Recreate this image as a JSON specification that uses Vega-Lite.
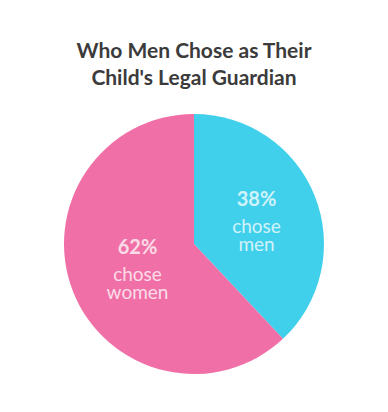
{
  "$schema": "https://vega.github.io/schema/vega-lite/v6.json",
  "width": 388,
  "height": 412,
  "autosize": {"type": "fit", "contains": "padding"},
  "padding": {"left": 6, "right": 6, "top": 5, "bottom": 8},
  "background": "#ffffff",
  "config": {"view": {"fill": "#f8f8f8", "stroke": null}},
  "title": {
    "text": ["Who Men Chose as Their", "Child's Legal Guardian"],
    "font": "Lato",
    "fontSize": 21,
    "fontWeight": "bold",
    "color": "#3b3b3b",
    "lineHeight": 27,
    "anchor": "middle",
    "baseline": "alphabetic",
    "offset": -101
  },
  "data": {
    "values": [
      {"group": "men", "percent": 38, "label": "38%", "desc": "chose men"},
      {"group": "women", "percent": 62, "label": "62%", "desc": "chose women"}
    ]
  },
  "encoding": {
    "theta": {"field": "percent", "type": "quantitative", "stack": true},
    "color": {
      "field": "group",
      "type": "nominal",
      "scale": {"domain": ["men", "women"], "range": ["#41d0eb", "#f06fa6"]},
      "legend": null
    }
  },
  "layer": [
    {
      "mark": {"type": "arc", "outerRadius": 130, "y": {"expr": "height - 160"}}
    },
    {
      "mark": {
        "type": "text",
        "radius": 64,
        "dy": -20,
        "dx": 3,
        "y": {"expr": "height - 160"},
        "font": "Lato",
        "fontSize": 20,
        "fontWeight": "bold",
        "fill": "#ffffff",
        "opacity": 0.75
      },
      "encoding": {"text": {"field": "label"}, "color": {"value": "#ffffff"}}
    },
    {
      "mark": {
        "type": "text",
        "radius": 64,
        "dy": 7,
        "dx": 3,
        "y": {"expr": "height - 160"},
        "font": "Lato",
        "fontSize": 19,
        "lineHeight": 18,
        "lineBreak": " ",
        "fill": "#ffffff",
        "opacity": 0.75
      },
      "encoding": {"text": {"field": "desc"}, "color": {"value": "#ffffff"}}
    }
  ]
}
